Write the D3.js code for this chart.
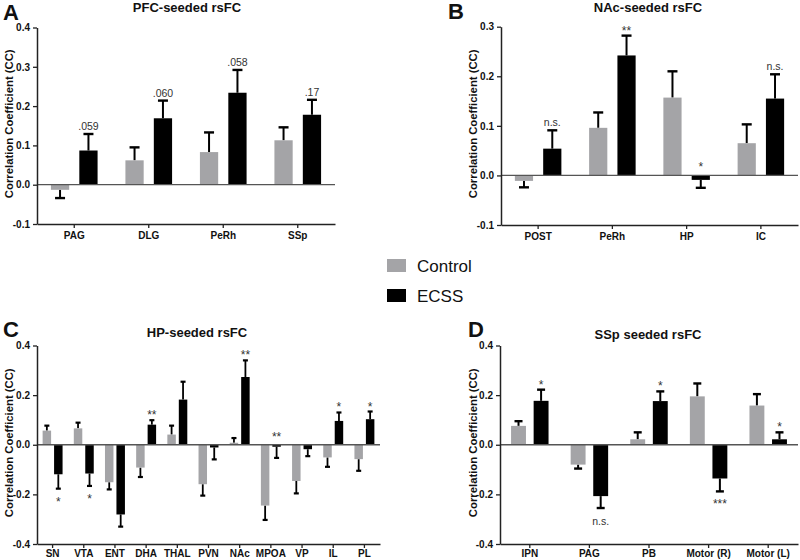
<!DOCTYPE html>
<html>
<head>
<meta charset="utf-8">
<script src="https://cdn.jsdelivr.net/npm/d3@7"></script>
<style>
  body { margin: 0; background: #fff; }
  svg { display: block; font-family: "Liberation Sans", Arial, sans-serif; }
</style>
</head>
<body>
<script>
// ---------- DATA ----------
const seriesNames = ["Control", "ECSS"];

const A_categories = ["PAG", "DLG", "PeRh", "SSp"];
const A_control    = [-0.013, 0.062, 0.083, 0.113];
const A_controlErr = [0.021, 0.033, 0.050, 0.033];
const A_ecss       = [0.087, 0.169, 0.234, 0.178];
const A_ecssErr    = [0.042, 0.045, 0.058, 0.038];
const A_labels     = [".059", ".060", ".058", ".17"];
const A_yTicks     = [-0.1, 0.0, 0.1, 0.2, 0.3, 0.4];

const B_categories = ["POST", "PeRh", "HP", "IC"];
const B_control    = [-0.011, 0.096, 0.157, 0.065];
const B_controlErr = [0.013, 0.031, 0.053, 0.038];
const B_ecss       = [0.054, 0.242, -0.009, 0.155];
const B_ecssErr    = [0.037, 0.040, 0.016, 0.049];
const B_labels     = ["n.s.", "**", "*", "n.s."];
const B_yTicks     = [-0.1, 0.0, 0.1, 0.2, 0.3];

const C_categories = ["SN", "VTA", "ENT", "DHA", "THAL", "PVN", "NAc", "MPOA", "VP", "IL", "PL"];
const C_control    = [0.057, 0.066, -0.151, -0.092, 0.041, -0.159, 0.008, -0.245, -0.146, -0.051, -0.058];
const C_controlErr = [0.020, 0.023, 0.029, 0.038, 0.036, 0.046, 0.019, 0.058, 0.050, 0.038, 0.047];
const C_ecss       = [-0.119, -0.116, -0.281, 0.081, 0.182, -0.011, 0.273, -0.008, -0.018, 0.096, 0.103];
const C_ecssErr    = [0.058, 0.050, 0.049, 0.018, 0.072, 0.048, 0.067, 0.045, 0.028, 0.034, 0.031];
const C_labels     = ["*", "*", "", "**", "", "", "**", "**", "", "*", "*"];
const C_yTicks     = [-0.4, -0.2, 0.0, 0.2, 0.4];

const D_categories = ["IPN", "PAG", "PB", "Motor (R)", "Motor (L)"];
const D_control    = [0.076, -0.080, 0.022, 0.195, 0.158];
const D_controlErr = [0.019, 0.016, 0.028, 0.052, 0.046];
const D_ecss       = [0.177, -0.207, 0.176, -0.136, 0.022];
const D_ecssErr    = [0.045, 0.048, 0.039, 0.052, 0.028];
const D_labels     = ["*", "n.s.", "*", "***", "*"];
const D_yTicks     = [-0.4, -0.2, 0.0, 0.2, 0.4];

// ---------- DRAW ----------
const colors = { Control: "#a4a4a7", ECSS: "#000000" };
const svg = d3.select("body").append("svg").attr("width", 800).attr("height", 560);
const fmt = d => d3.format(".1f")(d).replace("\u2212", "-");

function drawPanel(p) {
  const g = svg.append("g");
  const y = d3.scaleLinear().domain(p.yDomain).range([p.yBottom, p.yTop]);
  const x = d3.scaleBand().domain(p.cats).range([p.x0, p.x1]);
  const xs = d3.scaleBand().domain(seriesNames).range([0, x.bandwidth()])
    .paddingInner(p.pInner).paddingOuter(0.49);
  const rows = [];
  p.cats.forEach((c, i) => {
    rows.push({ cat: c, s: "Control", v: p.ctrl[i], e: p.ctrlErr[i] });
    rows.push({ cat: c, s: "ECSS", v: p.ecss[i], e: p.ecssErr[i], lab: p.labels[i] });
  });
  const y0 = y(0);

  // error bars (behind bars)
  const eg = g.append("g").attr("stroke", "#000").attr("stroke-width", p.errW);
  rows.forEach(r => {
    const cx = x(r.cat) + xs(r.s) + xs.bandwidth() / 2;
    const end = r.v >= 0 ? r.v + r.e : r.v - r.e;
    eg.append("line").attr("x1", cx).attr("x2", cx).attr("y1", y(r.v)).attr("y2", y(end));
    eg.append("line").attr("x1", cx - p.capW / 2).attr("x2", cx + p.capW / 2)
      .attr("y1", y(end)).attr("y2", y(end)).attr("stroke-width", p.errW + 0.4);
  });

  // bars
  g.append("g").selectAll("rect").data(rows).join("rect")
    .attr("x", r => x(r.cat) + xs(r.s))
    .attr("width", xs.bandwidth())
    .attr("y", r => Math.min(y(r.v), y0))
    .attr("height", r => Math.abs(y(r.v) - y0))
    .attr("fill", r => colors[r.s]);

  // zero line
  g.append("line").attr("x1", p.x0).attr("x2", p.x1).attr("y1", y0).attr("y2", y0)
    .attr("stroke", "#555").attr("stroke-width", 1.3);

  // y axis
  const ya = g.append("g").attr("transform", `translate(${p.x0},0)`)
    .call(d3.axisLeft(y).tickValues(p.yTicks).tickSize(4).tickSizeOuter(0).tickPadding(3).tickFormat(fmt));
  // x axis
  const xa = g.append("g").attr("transform", `translate(0,${p.yBottom})`)
    .call(d3.axisBottom(x).tickSize(4).tickSizeOuter(0).tickPadding(p.xPad));
  [ya, xa].forEach(a => {
    a.select(".domain").attr("stroke", "#222").attr("stroke-width", 1.5);
    a.selectAll(".tick line").attr("stroke", "#222").attr("stroke-width", 1.3);
    a.selectAll("text").attr("fill", "#111").attr("font-size", 10).attr("font-weight", "bold")
      .attr("font-family", "'Liberation Sans', Arial, sans-serif");
  });

  // annotations
  rows.filter(r => r.lab).forEach(r => {
    const cx = x(r.cat) + xs(r.s) + xs.bandwidth() / 2;
    let ty;
    if (r.v >= 0) ty = y(r.v + r.e) - 4;
    else if (Math.abs(r.v) < 0.03) ty = y0 - 4;
    else ty = y(r.v - r.e) + 17;
    const isStar = /^\*+$/.test(r.lab);
    g.append("text").attr("x", cx).attr("y", isStar && r.v >= 0 ? ty + 3 : ty)
      .attr("text-anchor", "middle").attr("font-size", isStar ? 12 : 10.5)
      .attr("fill", "#333").text(r.lab);
  });

  // y title
  g.append("text")
    .attr("transform", `translate(${p.yTitleX},${(p.yTop + p.yBottom) / 2 - 2}) rotate(-90)`)
    .attr("text-anchor", "middle").attr("font-size", 11.3).attr("font-weight", "bold")
    .attr("fill", "#111").text("Correlation Coefficient (CC)");

  // title
  g.append("text").attr("x", p.titleX).attr("y", p.titleY).attr("text-anchor", "middle")
    .attr("font-size", 13).attr("font-weight", "bold").attr("fill", "#111").text(p.title);
  // letter
  g.append("text").attr("x", p.letterX).attr("y", p.letterY)
    .attr("font-size", 22).attr("font-weight", "bold").attr("fill", "#111").text(p.letter);
}

drawPanel({ cats: A_categories, ctrl: A_control, ctrlErr: A_controlErr, ecss: A_ecss, ecssErr: A_ecssErr,
  labels: A_labels, yTicks: A_yTicks, yDomain: [-0.1, 0.4], yTop: 27.5, yBottom: 224,
  x0: 37, x1: 335, pInner: 0.357, capW: 10, errW: 2, xPad: 4,
  yTitleX: 13, title: "PFC-seeded rsFC", titleX: 187, titleY: 12, letter: "A", letterX: 3, letterY: 20 });

drawPanel({ cats: B_categories, ctrl: B_control, ctrlErr: B_controlErr, ecss: B_ecss, ecssErr: B_ecssErr,
  labels: B_labels, yTicks: B_yTicks, yDomain: [-0.1, 0.3], yTop: 26.7, yBottom: 225,
  x0: 501, x1: 798, pInner: 0.357, capW: 10, errW: 2, xPad: 4,
  yTitleX: 477, title: "NAc-seeded rsFC", titleX: 648, titleY: 12, letter: "B", letterX: 448, letterY: 19 });

drawPanel({ cats: C_categories, ctrl: C_control, ctrlErr: C_controlErr, ecss: C_ecss, ecssErr: C_ecssErr,
  labels: C_labels, yTicks: C_yTicks, yDomain: [-0.4, 0.4], yTop: 345.5, yBottom: 544,
  x0: 37, x1: 380, pInner: 0.26, capW: 5, errW: 1.8, xPad: 2,
  yTitleX: 13, title: "HP-seeded rsFC", titleX: 197, titleY: 337, letter: "C", letterX: 3, letterY: 337 });

drawPanel({ cats: D_categories, ctrl: D_control, ctrlErr: D_controlErr, ecss: D_ecss, ecssErr: D_ecssErr,
  labels: D_labels, yTicks: D_yTicks, yDomain: [-0.4, 0.4], yTop: 345.5, yBottom: 544,
  x0: 500, x1: 798, pInner: 0.34, capW: 8, errW: 2, xPad: 2,
  yTitleX: 477, title: "SSp seeded rsFC", titleX: 648, titleY: 339, letter: "D", letterX: 468, letterY: 337 });

// legend
const leg = svg.append("g");
seriesNames.forEach((s, i) => {
  leg.append("rect").attr("x", 387).attr("y", 259 + i * 30).attr("width", 19).attr("height", 13)
    .attr("fill", colors[s]);
  leg.append("text").attr("x", 417).attr("y", 271.5 + i * 30).attr("font-size", 17)
    .attr("fill", "#111").text(s);
});
</script>
</body>
</html>
